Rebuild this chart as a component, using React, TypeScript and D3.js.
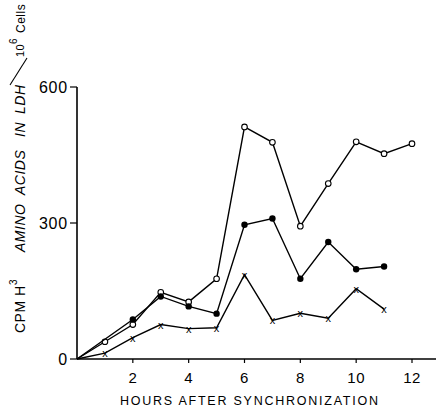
import { useEffect, useRef } from 'react';
import * as d3 from 'd3';

// hours after synchronization
const hoursOpen = [0, 1, 2, 3, 4, 5, 6, 7, 8, 9, 10, 11, 12];
const valuesOpen = [0, 38, 76, 147, 126, 177, 512, 478, 293, 387, 479, 453, 475];

const hoursFilled = [0, 2, 3, 4, 5, 6, 7, 8, 9, 10, 11];
const valuesFilled = [0, 87, 138, 116, 100, 296, 310, 177, 258, 198, 204];

const hoursCross = [0, 1, 2, 3, 4, 5, 6, 7, 8, 9, 10, 11];
const valuesCross = [0, 13, 47, 76, 67, 69, 186, 85, 101, 90, 155, 110];

const xTicks = [2, 4, 6, 8, 10, 12];
const yTicks = [0, 300, 600];

const W = 436;
const H = 412;

const App = () => {
    const svgRef = useRef<SVGSVGElement | null>(null);

    useEffect(() => {
        const svg = d3.select(svgRef.current);
        svg.selectAll('*').remove();

        const x = d3.scaleLinear().domain([0, 12]).range([77, 412]);
        const y = d3.scaleLinear().domain([0, 600]).range([359, 87]);
        const font = "'Liberation Sans', Arial, sans-serif";

        // axes
        svg.append('line')
            .attr('x1', x(0)).attr('x2', x(0))
            .attr('y1', y(600)).attr('y2', y(0))
            .attr('stroke', '#000').attr('stroke-width', 1.6);
        svg.append('line')
            .attr('x1', x(0)).attr('x2', 436)
            .attr('y1', y(0)).attr('y2', y(0))
            .attr('stroke', '#000').attr('stroke-width', 1.6);

        yTicks.forEach(t => {
            svg.append('line')
                .attr('x1', x(0) - 7).attr('x2', x(0))
                .attr('y1', y(t)).attr('y2', y(t))
                .attr('stroke', '#000').attr('stroke-width', 1.2);
            svg.append('text')
                .attr('x', x(0) - 9).attr('y', y(t))
                .attr('text-anchor', 'end')
                .attr('dominant-baseline', 'central')
                .style('font-family', font)
                .style('font-size', '16px')
                .style('letter-spacing', '0.8px')
                .text(t);
        });

        xTicks.forEach(t => {
            svg.append('line')
                .attr('x1', x(t)).attr('x2', x(t))
                .attr('y1', y(0)).attr('y2', y(0) + 4)
                .attr('stroke', '#000').attr('stroke-width', 1.2);
            svg.append('text')
                .attr('x', x(t)).attr('y', y(0) + 18)
                .attr('text-anchor', 'middle')
                .attr('dominant-baseline', 'central')
                .style('font-family', font)
                .style('font-size', '15px')
                .style('letter-spacing', '0.5px')
                .text(t);
        });

        // x axis title
        svg.append('text')
            .attr('x', 120).attr('y', 405)
            .attr('textLength', 258)
            .attr('lengthAdjust', 'spacing')
            .style('font-family', font)
            .style('font-size', '12.5px')
            .text('HOURS AFTER SYNCHRONIZATION');

        // y axis title, one piece per word (rotated, baseline at x=25)
        const yWord = (txt: string, start: number, size: number, italic = false, bx = 25) => {
            svg.append('text')
                .attr('transform', `translate(${bx},${start}) rotate(-90)`)
                .style('font-family', font)
                .style('font-size', `${size}px`)
                .style('letter-spacing', '0.5px')
                .style('font-style', italic ? 'italic' : 'normal')
                .text(txt);
        };
        yWord('CPM', 333, 14);
        yWord('H', 296, 14);
        yWord('3', 285, 10, false, 17);
        yWord('AMINO', 252, 14, true);
        yWord('ACIDS', 195, 14, true);
        yWord('IN', 137, 14, true);
        yWord('LDH', 114, 14, true);
        svg.append('line')
            .attr('x1', 10).attr('y1', 85)
            .attr('x2', 27).attr('y2', 58)
            .attr('stroke', '#000').attr('stroke-width', 1.1);
        yWord('10', 57, 11, false, 24);
        yWord('6', 44, 10, false, 17);
        yWord('Cells', 33, 12, false, 25);

        const line = d3.line<[number, number]>()
            .x(d => x(d[0]))
            .y(d => y(d[1]));

        const series = [
            { hours: hoursOpen, values: valuesOpen, kind: 'open' },
            { hours: hoursFilled, values: valuesFilled, kind: 'filled' },
            { hours: hoursCross, values: valuesCross, kind: 'cross' },
        ];

        series.forEach(s => {
            const pts: [number, number][] = s.hours.map((h, i) => [h, s.values[i]]);
            svg.append('path')
                .attr('d', line(pts))
                .attr('fill', 'none')
                .attr('stroke', '#000')
                .attr('stroke-width', 1.4);

            pts.slice(1).forEach(p => {
                const cx = x(p[0]);
                const cy = y(p[1]);
                if (s.kind === 'open') {
                    svg.append('circle')
                        .attr('cx', cx).attr('cy', cy).attr('r', 2.8)
                        .attr('fill', '#fff').attr('stroke', '#000').attr('stroke-width', 1.1);
                } else if (s.kind === 'filled') {
                    svg.append('circle')
                        .attr('cx', cx).attr('cy', cy).attr('r', 3.2)
                        .attr('fill', '#000');
                } else {
                    svg.append('text')
                        .attr('x', cx).attr('y', cy)
                        .attr('text-anchor', 'middle')
                        .attr('dominant-baseline', 'central')
                        .style('font-family', font)
                        .style('font-size', '11px')
                        .attr('fill', '#000')
                        .text('x');
                }
            });
        });
    }, []);

    return (
        <div style={{ position: 'fixed', left: 0, top: 0, width: W, height: H, overflow: 'hidden', background: '#fff' }}>
            <svg ref={svgRef} width={W} height={H} style={{ display: 'block' }} />
        </div>
    );
};

export default App;
